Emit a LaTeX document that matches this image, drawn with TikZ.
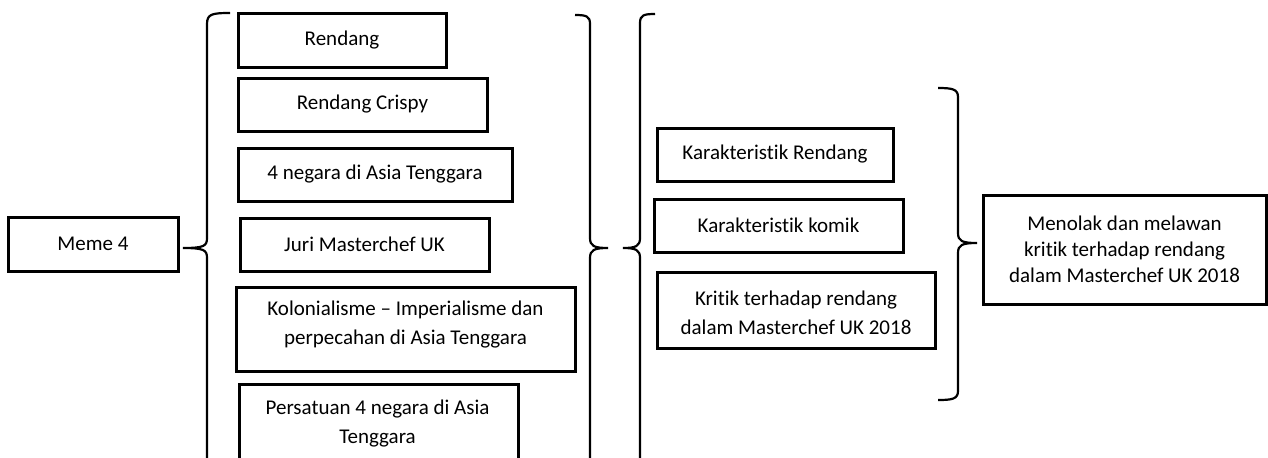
\documentclass[tikz,border=0pt]{standalone}
\usepackage{fontspec}
\setmainfont{Carlito}[Ligatures=NoCommon]
\begin{document}
\begin{tikzpicture}[x=0.5pt,y=-0.5pt,
  txt/.style={align=center,inner sep=0pt,font=\fontsize{10.5}{13}\selectfont},
  wide/.style={font=\fontsize{10.5}{14.5}\selectfont},
  box/.style={txt,draw,line width=1.5pt},
  brace/.style={line width=1.1pt}]
\useasboundingbox (0,0) rectangle (1268,457);
\clip (0,0) rectangle (1268,457);
% left node
\node[box, minimum width=85pt, minimum height=27pt] (meme) at (93,244) {Meme 4};
% column 1
\node[box, minimum width=104pt, minimum height=27pt] (a1) at (342,40) {Rendang};
\node[box, minimum width=124.5pt, minimum height=26.5pt] (a2) at (362.5,104.5) {Rendang Crispy};
\node[box, minimum width=137pt, minimum height=26.5pt] (a3) at (375,174.5) {4 negara di Asia Tenggara};
\node[box, minimum width=124.5pt, minimum height=26.5pt] (a4) at (364.5,244.5) {Juri Masterchef UK};
\node[box, minimum width=169.5pt, minimum height=42pt] (a5) at (405.5,329) {};
\node[txt, wide] (a5t) at (405.5,325) {Kolonialisme – Imperialisme dan\\perpecahan di Asia Tenggara};
\node[box, minimum width=139.5pt, minimum height=48.5pt, anchor=north west] (a6) at (238,383) {};
\node[txt, wide, anchor=north] (a6t) at (377.5,400) {Persatuan 4 negara di Asia\\Tenggara};
% column 2
\node[box, minimum width=118pt, minimum height=26.5pt] (b1) at (775,154.5) {Karakteristik Rendang};
\node[box, minimum width=124.5pt, minimum height=26.5pt] (b2) at (778.5,225.5) {Karakteristik komik};
\node[box, minimum width=139pt, minimum height=38pt] (b3) at (796,310) {};
\node[txt, wide] (b3t) at (796,313) {Kritik terhadap rendang\\dalam Masterchef UK 2018};
% result
\node[box, minimum width=141.5pt, minimum height=54.5pt] (c) at (1124.5,249.5) {Menolak dan melawan\\kritik terhadap rendang\\dalam Masterchef UK 2018};
% braces
\coordinate (t1) at (183,248);
\coordinate (t2) at (608,248);
\coordinate (t3) at (623,248);
\coordinate (t4) at (977,243);
\draw[brace] (230,13) .. controls (212,13) and (207,14) .. (207,24) -- (207,238)
  .. controls (207,246) and (204,248) .. (t1)
  .. controls (204,248) and (207,250) .. (207,258) -- (207,475);
\draw[brace] (575,15) .. controls (586,15) and (590,16) .. (590,24) -- (590,238)
  .. controls (590,246) and (594,248) .. (t2)
  .. controls (594,248) and (590,250) .. (590,258) -- (590,475);
\draw[brace] (655,14) .. controls (644,14) and (640,15) .. (640,23) -- (640,238)
  .. controls (640,246) and (636,248) .. (t3)
  .. controls (636,248) and (640,250) .. (640,258) -- (640,475);
\draw[brace] (938,88) .. controls (952,88) and (958,89) .. (958,97) -- (958,233)
  .. controls (958,241) and (962,243) .. (t4)
  .. controls (962,243) and (958,245) .. (958,253) -- (958,391)
  .. controls (958,399) and (952,400) .. (938,400);
\end{tikzpicture}
\end{document}
